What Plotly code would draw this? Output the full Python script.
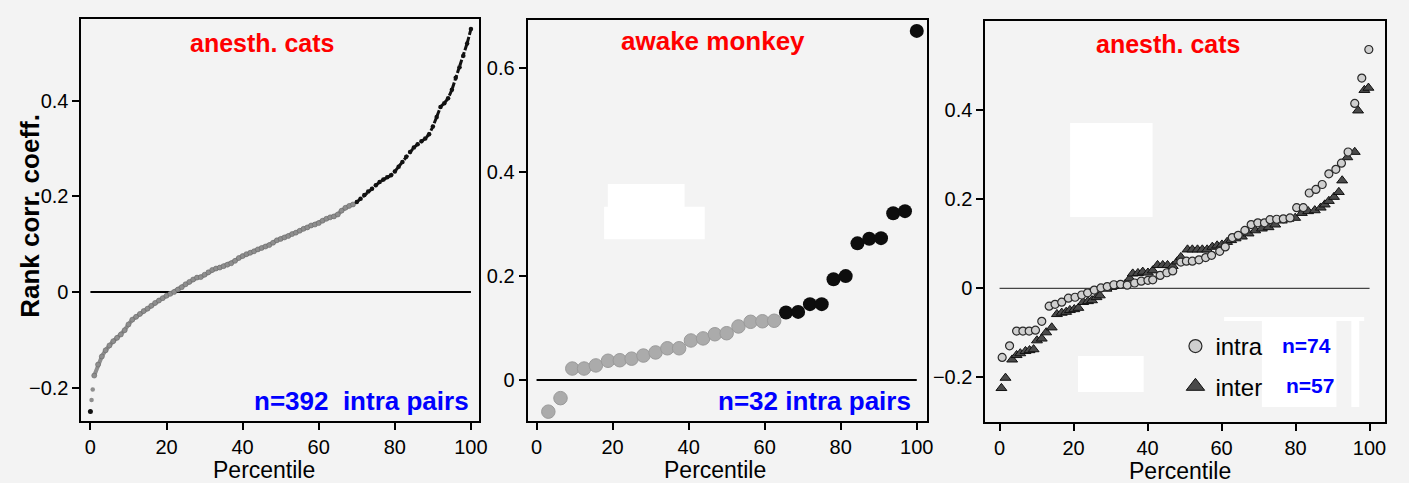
import plotly.graph_objects as go

W, H = 1409, 483

# ---------------- data ----------------
# Panel 1: anesth. cats, n=392 intra pairs (read at ~1 percentile steps)
p1_pct = [0, 0.3, 0.6] + list(range(1, 101))
p1_corr = [
    -0.250, -0.226, -0.204,
    -0.175, -0.152, -0.135, -0.122, -0.112, -0.103, -0.096, -0.089, -0.080, -0.068,
    -0.058, -0.052, -0.046, -0.040, -0.035, -0.029, -0.023, -0.018, -0.013, -0.008,
    -0.004, 0.000, 0.005, 0.010, 0.016, 0.021, 0.026, 0.030, 0.031, 0.036,
    0.041, 0.046, 0.049, 0.051, 0.054, 0.057, 0.060, 0.065, 0.071, 0.075,
    0.079, 0.082, 0.085, 0.089, 0.092, 0.095, 0.098, 0.103, 0.108, 0.111,
    0.114, 0.117, 0.121, 0.124, 0.128, 0.132, 0.135, 0.139, 0.141, 0.144,
    0.149, 0.153, 0.156, 0.158, 0.162, 0.170, 0.176, 0.180, 0.183, 0.188,
    0.195, 0.203, 0.210, 0.216, 0.223, 0.230, 0.235, 0.240, 0.244, 0.252,
    0.262, 0.272, 0.283, 0.293, 0.302, 0.309, 0.315, 0.321, 0.330, 0.346,
    0.366, 0.387, 0.395, 0.405, 0.423, 0.448, 0.470, 0.494, 0.520, 0.550,
]
p1_sig_threshold = 70  # percentiles >= this drawn black (plus the lowest point)

# Panel 2: awake monkey, n=32 intra pairs
p2_pct = [3.1, 6.3, 9.4, 12.5, 15.6, 18.8, 21.9, 25.0, 28.1, 31.3, 34.4, 37.5,
          40.6, 43.8, 46.9, 50.0, 53.1, 56.3, 59.4, 62.5, 65.6, 68.8, 71.9, 75.0,
          78.1, 81.3, 84.4, 87.5, 90.6, 93.8, 96.9, 100.0]
p2_corr = [-0.061, -0.035, 0.022, 0.022, 0.028, 0.037, 0.038, 0.041, 0.047, 0.053,
           0.061, 0.061, 0.076, 0.080, 0.088, 0.090, 0.103, 0.112, 0.113, 0.114,
           0.130, 0.131, 0.146, 0.146, 0.194, 0.200, 0.263, 0.272, 0.273, 0.321,
           0.325, 0.672]
p2_sig = [False] * 20 + [True] * 12

# Panel 3: anesth. cats, intra vs inter
p3_intra_pct = [0.7, 2.7, 4.6, 6.3, 8.0, 9.7, 11.4, 13.4, 15.0, 16.8, 18.6, 20.4,
                22.2, 23.8, 25.6, 27.4, 29.1, 30.9, 32.7, 34.5, 36.5, 38.3, 40.1,
                41.4, 43.4, 45.2, 46.8, 49.0, 50.5, 52.1, 53.9, 55.7, 57.3, 59.5,
                61.0, 62.9, 64.5, 66.3, 68.0, 69.8, 71.6, 73.1, 74.9, 76.7, 78.5,
                80.3, 82.1, 83.7, 85.5, 87.2, 89.0, 90.9, 92.4, 94.2, 96.0, 97.9, 99.8]
p3_intra_corr = [-0.155, -0.129, -0.096, -0.096, -0.096, -0.094, -0.074, -0.040,
                 -0.036, -0.031, -0.022, -0.020, -0.015, -0.010, -0.004, 0.001,
                 0.004, 0.008, 0.009, 0.007, 0.012, 0.016, 0.018, 0.019, 0.029,
                 0.035, 0.039, 0.059, 0.061, 0.061, 0.064, 0.069, 0.074, 0.083,
                 0.093, 0.114, 0.119, 0.130, 0.143, 0.147, 0.147, 0.154, 0.155,
                 0.156, 0.158, 0.181, 0.181, 0.214, 0.222, 0.233, 0.257, 0.267,
                 0.281, 0.306, 0.415, 0.472, 0.536]
p3_inter_pct = [0.5, 1.6, 3.4, 4.6, 5.6, 7.0, 8.1, 9.2, 10.1, 11.4, 12.6, 14.1,
                15.5, 16.8, 18.0, 19.0, 20.2, 21.3, 22.6, 23.9, 25.0, 26.2, 27.1,
                28.9, 30.2, 31.5, 32.8, 34.0, 35.2, 36.0, 37.4, 38.7, 40.1, 41.4,
                42.7, 44.1, 45.4, 46.8, 48.0, 49.0, 50.8, 52.1, 53.5, 54.8, 56.1,
                57.5, 58.8, 60.1, 61.5, 62.6, 63.8, 65.5, 67.3, 69.1, 70.9, 72.7,
                74.5, 76.3, 78.1, 79.9, 81.7, 83.4, 85.2, 86.8, 87.9, 89.0, 90.4,
                91.7, 92.6, 94.0, 96.0, 96.9, 98.6, 99.7]
p3_inter_corr = [-0.224, -0.201, -0.160, -0.150, -0.146, -0.141, -0.139, -0.137,
                 -0.117, -0.113, -0.099, -0.088, -0.058, -0.055, -0.053, -0.049,
                 -0.047, -0.044, -0.031, -0.029, -0.027, -0.020, -0.016, -0.001,
                 0.003, 0.005, 0.008, 0.010, 0.022, 0.033, 0.034, 0.037, 0.035,
                 0.040, 0.052, 0.052, 0.052, 0.050, 0.060, 0.070, 0.087, 0.087,
                 0.087, 0.087, 0.087, 0.093, 0.096, 0.098, 0.104, 0.108, 0.112,
                 0.116, 0.123, 0.130, 0.134, 0.137, 0.143, 0.152, 0.156, 0.158,
                 0.169, 0.173, 0.175, 0.181, 0.188, 0.196, 0.205, 0.216, 0.242,
                 0.294, 0.306, 0.399, 0.445, 0.450]

x_ticks = [0, 20, 40, 60, 80, 100]
p1_yticks = [-0.2, 0, 0.2, 0.4]
p2_yticks = [0, 0.2, 0.4, 0.6]
p3_yticks = [-0.2, 0, 0.2, 0.4]


def tick_text(vals):
    out = []
    for v in vals:
        if v == 0:
            out.append("0")
        elif v < 0:
            out.append("\u2212" + f"{abs(v):g}")
        else:
            out.append(f"{v:g}")
    return out


# ---------------- figure ----------------
FONT = "Liberation Sans, Arial, Helvetica, sans-serif"
BG = "#f3f3f3"

fig = go.Figure()

# panel 1
is_black = [(x >= p1_sig_threshold or x == 0) for x in p1_pct]
g_x = [x for x, b in zip(p1_pct, is_black) if not b and x >= 1]
g_y = [y for y, x, b in zip(p1_corr, p1_pct, is_black) if not b and x >= 1]
o_x = [x for x, b in zip(p1_pct, is_black) if not b and x < 1]
o_y = [y for y, x, b in zip(p1_corr, p1_pct, is_black) if not b and x < 1]
k_x = [x for x, b in zip(p1_pct, is_black) if b and x > 0]
k_y = [y for y, x, b in zip(p1_corr, p1_pct, is_black) if b and x > 0]
z_x = [x for x, b in zip(p1_pct, is_black) if b and x == 0]
z_y = [y for y, x, b in zip(p1_corr, p1_pct, is_black) if b and x == 0]

fig.add_trace(go.Scatter(x=g_x, y=g_y, mode="lines+markers", xaxis="x", yaxis="y",
                         line=dict(color="#8e8e8e", width=4),
                         marker=dict(size=5, color="#8e8e8e",
                                     line=dict(width=0.6, color="#6a6a6a")),
                         showlegend=False))
fig.add_trace(go.Scatter(x=o_x, y=o_y, mode="markers", xaxis="x", yaxis="y",
                         marker=dict(size=4.5, color="#8e8e8e"), showlegend=False))
fig.add_trace(go.Scatter(x=k_x, y=k_y, mode="lines+markers", xaxis="x", yaxis="y",
                         line=dict(color="#111111", width=3, dash="6px,2px"),
                         marker=dict(size=4.5, color="#111111"), showlegend=False))
fig.add_trace(go.Scatter(x=z_x, y=z_y, mode="markers", xaxis="x", yaxis="y",
                         marker=dict(size=5, color="#111111"), showlegend=False))

# panel 2
fig.add_trace(go.Scatter(x=[x for x, s in zip(p2_pct, p2_sig) if not s],
                         y=[y for y, s in zip(p2_corr, p2_sig) if not s],
                         mode="markers", xaxis="x2", yaxis="y2",
                         marker=dict(size=13.5, color="#ababab",
                                     line=dict(width=1, color="#9a9a9a")),
                         showlegend=False))
fig.add_trace(go.Scatter(x=[x for x, s in zip(p2_pct, p2_sig) if s],
                         y=[y for y, s in zip(p2_corr, p2_sig) if s],
                         mode="markers", xaxis="x2", yaxis="y2",
                         marker=dict(size=14, color="#0d0d0d"),
                         showlegend=False))

# panel 3
INTER_MARK = dict(symbol="triangle-up", color="#4a4a4a",
                  line=dict(width=1, color="#111111"))
INTRA_MARK = dict(symbol="circle", color="#cfcfcf",
                  line=dict(width=1.2, color="#2a2a2a"))
fig.add_trace(go.Scatter(x=p3_inter_pct, y=p3_inter_corr, mode="markers",
                         xaxis="x3", yaxis="y3", showlegend=False,
                         marker=dict(size=9.5, **INTER_MARK)))
fig.add_trace(go.Scatter(x=p3_intra_pct, y=p3_intra_corr, mode="markers",
                         xaxis="x3", yaxis="y3", showlegend=False,
                         marker=dict(size=8, **INTRA_MARK)))
# legend entries (larger symbols, as in the original key)
fig.add_trace(go.Scatter(x=[None], y=[None], mode="markers", xaxis="x3", yaxis="y3",
                         name="intra", legendgroup="a", legendrank=1,
                         marker=dict(size=13, **INTRA_MARK)))
fig.add_trace(go.Scatter(x=[None], y=[None], mode="markers", xaxis="x3", yaxis="y3",
                         name="inter", legendgroup="b", legendrank=2,
                         marker=dict(size=16, **INTER_MARK)))


def px_x(p):
    return p / W


def px_y(p):
    return 1 - p / H


axis_common = dict(showline=True, linewidth=2, linecolor="black", mirror=True,
                   ticks="outside", ticklen=7, tickwidth=1.5, tickcolor="black",
                   showgrid=False, zeroline=False,
                   tickfont=dict(family=FONT, size=20, color="black"))

fig.update_layout(
    width=W, height=H, margin=dict(l=0, r=0, t=0, b=0),
    paper_bgcolor=BG, plot_bgcolor=BG,
    xaxis=dict(domain=[px_x(82), px_x(482)], range=[-2.35, 102.1],
               tickvals=x_ticks, anchor="y", **axis_common),
    yaxis=dict(domain=[px_y(421), px_y(19)], range=[-0.270, 0.571],
               tickvals=p1_yticks, ticktext=tick_text(p1_yticks), anchor="x",
               **axis_common),
    xaxis2=dict(domain=[px_x(531), px_x(933)], range=[-2.35, 102.7],
                tickvals=x_ticks, anchor="y2", **axis_common),
    yaxis2=dict(domain=[px_y(421), px_y(20)], range=[-0.079, 0.693],
                tickvals=p2_yticks, ticktext=tick_text(p2_yticks), anchor="x2",
                **axis_common),
    xaxis3=dict(domain=[px_x(991.7), px_x(1394)], range=[-3.84, 104.2],
                tickvals=x_ticks, anchor="y3", **axis_common),
    yaxis3=dict(domain=[px_y(422), px_y(21)], range=[-0.300, 0.600],
                tickvals=p3_yticks, ticktext=tick_text(p3_yticks), anchor="x3",
                **axis_common),
    showlegend=True,
    legend=dict(x=px_x(1183), y=px_y(324), xanchor="left", yanchor="top",
                bgcolor="rgba(0,0,0,0)", font=dict(family=FONT, size=24, color="black"),
                traceorder="grouped", tracegroupgap=6, itemsizing="trace",
                itemwidth=30),
)

# zero reference lines
for xr, yr, col, wd in [("x", "y", "black", 2), ("x2", "y2", "black", 2),
                        ("x3", "y3", "#444444", 1.3)]:
    fig.add_shape(type="line", xref=xr, yref=yr, x0=0, x1=100, y0=0, y1=0,
                  line=dict(color=col, width=wd), layer="below")

# scan artefact white patches
for (x0, y0, x1, y1) in [(611.7, 184, 689, 207), (608, 206.7, 709.3, 239.3),
                         (1077, 123, 1160, 217), (1085, 356, 1151, 392),
                         (1270, 317, 1345, 407), (1232, 317, 1373, 321),
                         (1360, 317, 1368, 407)]:
    fig.add_shape(type="rect", xref="paper", yref="paper",
                  x0=px_x(x0), x1=px_x(x1), y0=px_y(y1), y1=px_y(y0),
                  fillcolor="white", line=dict(width=0), layer="below")

# text annotations
def ann(text, x, y, size, color, bold=False, xanchor="center", angle=0):
    t = f"<b>{text}</b>" if bold else text
    fig.add_annotation(text=t, x=px_x(x), y=px_y(y), xref="paper", yref="paper",
                       xanchor=xanchor, yanchor="middle", showarrow=False,
                       textangle=angle,
                       font=dict(family=FONT, size=size, color=color))


ann("anesth. cats", 264.5, 43, 25, "#ff0000", bold=True)
ann("n=392\u00a0\u00a0intra pairs", 474, 401, 26, "#0000ff", bold=True, xanchor="right")
ann("awake monkey", 718, 41, 26, "#ff0000", bold=True)
ann("n=32 intra pairs", 919, 401, 26, "#0000ff", bold=True, xanchor="right")
ann("anesth. cats", 1176, 44, 25, "#ff0000", bold=True)
ann("n=74", 1315, 345, 21, "#0000ff", bold=True)
ann("n=57", 1318, 385, 21, "#0000ff", bold=True)
ann("Percentile", 266, 470, 23, "black")
ann("Percentile", 720, 470, 23, "black")
ann("Percentile", 1188, 471, 23, "black")
ann("Rank corr. coeff.", 30, 216, 26, "black", bold=True, angle=-90)

fig.write_html("out.html", config={"displayModeBar": False})
